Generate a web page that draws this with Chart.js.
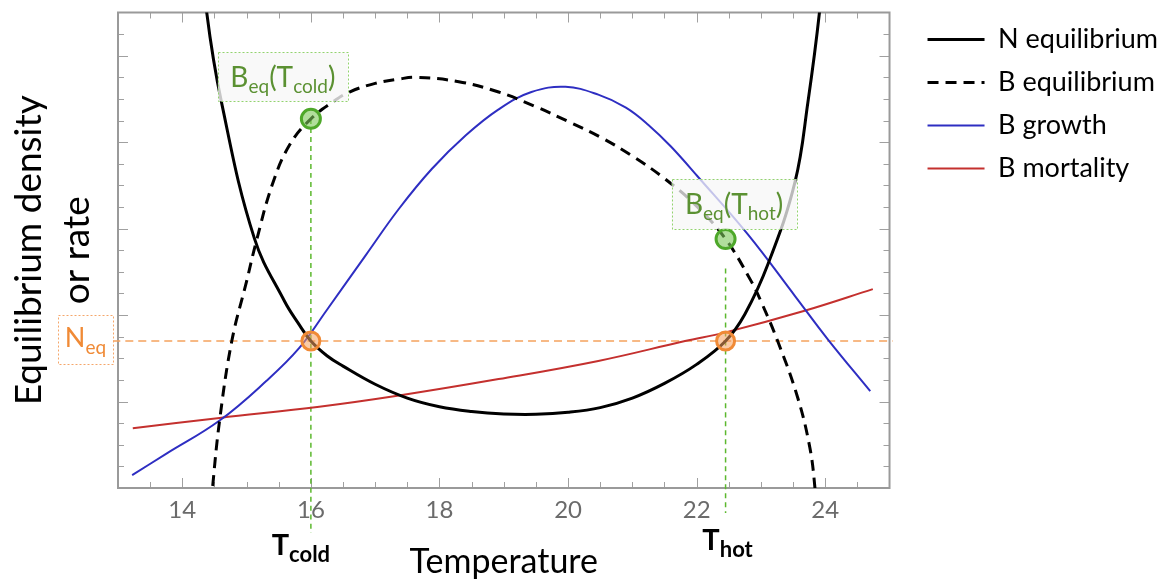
<!DOCTYPE html>
<html>
<head>
<meta charset="utf-8">
<script src="https://cdn.jsdelivr.net/npm/chart.js@4.4.1/dist/chart.umd.min.js"></script>
<style>
  html, body { margin: 0; padding: 0; background: #fff; }
</style>
</head>
<body>
<canvas id="chart" width="1172" height="581"></canvas>
<script>
// N equilibrium (solid black U curve)
const nEqTemp = [14.25, 14.38, 14.61, 15.12, 15.59, 15.8, 16.0, 16.25, 16.5, 17.0, 17.5, 18.0, 18.5, 19.0, 19.5, 20.0, 20.5, 21.0, 21.5, 22.0, 22.45, 22.75, 23.11, 23.53, 23.73, 23.91, 24.0];
const nEquilibrium = [6.6, 5.5, 4.46, 2.89, 2.16, 1.91, 1.70, 1.53, 1.41, 1.20, 1.04, 0.94, 0.885, 0.856, 0.852, 0.875, 0.93, 1.04, 1.21, 1.43, 1.70, 2.01, 2.59, 3.54, 4.46, 5.5, 6.3];

// B equilibrium (dashed hump)
const bEqTemp = [14.4, 14.47, 14.58, 14.77, 15.0, 15.15, 15.4, 15.67, 16.0, 16.33, 16.6, 17.0, 17.37, 17.64, 18.3, 18.92, 19.5, 20.0, 20.5, 21.0, 21.5, 22.0, 22.45, 22.85, 23.0, 23.26, 23.57, 23.76, 23.84, 23.9];
const bEquilibrium = [-0.6, 0.0, 0.78, 1.70, 2.39, 2.85, 3.51, 3.97, 4.27, 4.46, 4.58, 4.68, 4.73, 4.75, 4.70, 4.58, 4.41, 4.24, 4.06, 3.84, 3.58, 3.26, 2.88, 2.39, 2.16, 1.70, 1.05, 0.47, 0.0, -0.6];

// B growth and B mortality rates
const growthTemp = [13.22, 13.76, 14.58, 15.31, 15.82, 16.24, 16.86, 17.37, 17.88, 18.41, 18.92, 19.43, 19.96, 20.47, 20.9, 21.25, 21.6, 22.02, 22.8, 23.53, 24.04, 24.7];
const bGrowth = [0.15, 0.40, 0.78, 1.24, 1.62, 2.05, 2.70, 3.23, 3.69, 4.08, 4.38, 4.58, 4.64, 4.55, 4.40, 4.20, 3.95, 3.60, 2.93, 2.22, 1.72, 1.12];
const mortalityTemp = [13.23, 14.58, 16.13, 17.37, 18.92, 20.47, 21.82, 22.45, 23.68, 24.74];
const bMortality = [0.69, 0.81, 0.94, 1.07, 1.26, 1.47, 1.70, 1.80, 2.05, 2.30];

// marked temperatures and levels
const tCold = 16.0;
const tHot = 22.45;
const nEqLevel = 1.70;
const bEqCold = 4.27;
const bEqHot = 2.88;

const xTicks = [14, 16, 18, 20, 22, 24];

const pts = (xs, ys) => xs.map((x, i) => ({x: x, y: ys[i]}));

const FONT = 'Lato, "Open Sans", sans-serif';
Chart.defaults.font.family = FONT;

// writes a row of text pieces (for subscripts) centred on cx
function drawRuns(ctx, runs, cx, baseline, color) {
  let total = 0;
  const widths = runs.map(r => {
    ctx.font = (r.bold ? 'bold ' : '') + r.size + 'px ' + FONT;
    const w = ctx.measureText(r.text).width;
    total += w;
    return w;
  });
  let x = cx - total / 2;
  ctx.fillStyle = color;
  ctx.textAlign = 'left';
  ctx.textBaseline = 'alphabetic';
  runs.forEach((r, i) => {
    ctx.font = (r.bold ? 'bold ' : '') + r.size + 'px ' + FONT;
    ctx.fillText(r.text, x, baseline + (r.dy || 0));
    x += widths[i];
  });
}

function dottedBox(ctx, cx, cy, w, h, stroke, fill) {
  ctx.save();
  ctx.fillStyle = fill;
  ctx.fillRect(cx - w / 2, cy - h / 2, w, h);
  ctx.setLineDash([2, 2]);
  ctx.lineWidth = 1;
  ctx.strokeStyle = stroke;
  ctx.strokeRect(Math.round(cx - w / 2) + 0.5, Math.round(cy - h / 2) + 0.5, w, h);
  ctx.restore();
}

// frame with inward ticks on all four sides
const framePlugin = {
  id: 'frame',
  beforeDatasetsDraw(chart) {
    const {ctx, chartArea: a, scales: {x, y}} = chart;
    ctx.save();
    ctx.strokeStyle = '#a0a0a0';
    ctx.lineWidth = 1;
    ctx.beginPath();
    for (let i = 1; i < 24; i++) {
      const v = 13 + i * 0.5;
      const px = Math.round(x.getPixelForValue(v)) + 0.5;
      const len = (i % 4 === 2) ? 10 : 6;
      ctx.moveTo(px, a.bottom); ctx.lineTo(px, a.bottom - len);
      ctx.moveTo(px, a.top); ctx.lineTo(px, a.top + len);
    }
    for (let i = 1; i < 22; i++) {
      const v = i * 0.25;
      const py = Math.round(y.getPixelForValue(v)) + 0.5;
      const len = (i % 4 === 0) ? 10 : 6;
      ctx.moveTo(a.left, py); ctx.lineTo(a.left + len, py);
      ctx.moveTo(a.right, py); ctx.lineTo(a.right - len, py);
    }
    ctx.stroke();
    ctx.lineWidth = 2;
    ctx.strokeStyle = '#9a9a9a';
    ctx.strokeRect(a.left, a.top, a.right - a.left, a.bottom - a.top);
    ctx.restore();
  },
  afterDatasetsDraw(chart) {
    const {ctx, chartArea: a, scales: {x, y}} = chart;
    ctx.save();
    const green = '#5b9132';
    const orange = '#f08a36';

    // B_eq(T_cold)
    const cx1 = x.getPixelForValue(tCold) - 28;
    const cy1 = y.getPixelForValue(bEqCold) - 42;
    dottedBox(ctx, cx1, cy1, 130, 49, '#92d36e', 'rgba(247,247,247,0.8)');
    drawRuns(ctx, [
      {text: 'B', size: 28}, {text: 'eq', size: 19, dy: 6},
      {text: '(T', size: 28}, {text: 'cold', size: 19, dy: 6}, {text: ')', size: 28}
    ], cx1, cy1 + 10, green);

    // B_eq(T_hot)
    const cx2 = x.getPixelForValue(tHot) + 8.5;
    const cy2 = y.getPixelForValue(bEqHot) - 35;
    dottedBox(ctx, cx2, cy2, 125, 50, '#92d36e', 'rgba(247,247,247,0.75)');
    drawRuns(ctx, [
      {text: 'B', size: 28}, {text: 'eq', size: 19, dy: 6},
      {text: '(T', size: 28}, {text: 'hot', size: 19, dy: 6}, {text: ')', size: 28}
    ], cx2, cy2 + 10, green);

    // N_eq at the left of the frame
    const ny = y.getPixelForValue(nEqLevel);
    dottedBox(ctx, a.left - 32.5, ny - 1.5, 55, 49, '#f5a66a', '#fff');
    drawRuns(ctx, [
      {text: 'N', size: 27}, {text: 'eq', size: 19, dy: 7}
    ], a.left - 32.5, ny + 6, orange);

    // temperature marks below the axis
    drawRuns(ctx, [
      {text: 'T', size: 29, bold: true}, {text: 'cold', size: 22, bold: true, dy: 7}
    ], x.getPixelForValue(tCold) - 10, 555, '#000');
    drawRuns(ctx, [
      {text: 'T', size: 29, bold: true}, {text: 'hot', size: 22, bold: true, dy: 7}
    ], x.getPixelForValue(tHot) + 2, 550, '#000');
    ctx.restore();
  }
};

const chart = new Chart(document.getElementById('chart'), {
  type: 'line',
  plugins: [framePlugin],
  data: {
    datasets: [
      {
        label: 'N equilibrium',
        data: pts(nEqTemp, nEquilibrium),
        borderColor: '#000',
        backgroundColor: '#000',
        borderWidth: 3,
        order: 1
      },
      {
        label: 'B equilibrium',
        data: pts(bEqTemp, bEquilibrium),
        borderColor: '#000',
        backgroundColor: '#000',
        borderWidth: 3,
        borderDash: [11, 7],
        order: 2
      },
      {
        label: 'B growth',
        data: pts(growthTemp, bGrowth),
        borderColor: '#2e2ec2',
        backgroundColor: '#2e2ec2',
        borderWidth: 2,
        order: 3
      },
      {
        label: 'B mortality',
        data: pts(mortalityTemp, bMortality),
        borderColor: '#c4302e',
        backgroundColor: '#c4302e',
        borderWidth: 2,
        order: 4
      },
      {
        label: 'N_eq level',
        data: [{x: 12.91, y: nEqLevel}, {x: 25.05, y: nEqLevel}],
        borderColor: '#f5a25e',
        borderWidth: 1.5,
        borderDash: [8, 5],
        clip: false,
        order: 5
      },
      {
        label: 'T_cold guide',
        data: [{x: tCold, y: bEqCold}, {x: tCold, y: -0.52}],
        borderColor: '#5cb82e',
        borderWidth: 1.5,
        borderDash: [5, 4],
        clip: false,
        order: 5
      },
      {
        label: 'T_hot guide',
        data: [{x: tHot, y: 2.54}, {x: tHot, y: -0.29}],
        borderColor: '#5cb82e',
        borderWidth: 1.5,
        borderDash: [5, 4],
        clip: false,
        order: 5
      },
      {
        label: 'B_eq points',
        data: [{x: tCold, y: bEqCold}, {x: tHot, y: bEqHot}],
        showLine: false,
        pointRadius: 9.5,
        pointBorderWidth: 3,
        pointBackgroundColor: 'rgba(125,200,90,0.6)',
        pointBorderColor: '#4ea82a',
        order: -1
      },
      {
        label: 'N_eq points',
        data: [{x: tCold, y: nEqLevel}, {x: tHot, y: nEqLevel}],
        showLine: false,
        pointRadius: 9,
        pointBorderWidth: 3,
        pointBackgroundColor: 'rgba(245,160,95,0.55)',
        pointBorderColor: '#f08a36',
        order: -1
      }
    ]
  },
  options: {
    responsive: false,
    animation: false,
    events: [],
    elements: {
      point: { radius: 0 },
      line: { tension: 0.4, capBezierPoints: false, fill: false }
    },
    layout: { padding: { top: 10, left: 0, right: 4, bottom: 0 } },
    plugins: {
      tooltip: { enabled: false },
      legend: {
        position: 'right',
        align: 'start',
        maxWidth: 260,
        labels: {
          usePointStyle: true,
          pointStyle: 'line',
          pointStyleWidth: 57,
          boxHeight: 27,
          padding: 16,
          color: '#000',
          font: { size: 27, family: FONT },
          // only the four curves, drawn with their own dash and width
          generateLabels: c => Chart.defaults.plugins.legend.labels.generateLabels(c)
            .filter(item => item.datasetIndex < 4)
            .map(item => {
              const ds = c.data.datasets[item.datasetIndex];
              return Object.assign(item, {
                lineDash: ds.borderDash || [],
                lineWidth: ds.borderWidth,
                strokeStyle: ds.borderColor,
                fillStyle: ds.borderColor
              });
            })
        }
      }
    },
    scales: {
      x: {
        type: 'linear',
        min: 13,
        max: 25,
        afterFit: s => { s.height = 93; },
        afterBuildTicks: s => { s.ticks = xTicks.map(v => ({value: v})); },
        grid: { display: false, drawTicks: false },
        border: { display: false },
        ticks: { color: '#6b6b6b', padding: 8, font: { size: 24 } },
        title: {
          display: true,
          text: 'Temperature',
          color: '#000',
          font: { size: 34, lineHeight: 1 },
          padding: { top: 0, bottom: 2 }
        }
      },
      y: {
        min: 0,
        max: 5.5,
        afterFit: s => { s.width = 118; },
        grid: { display: false, drawTicks: false },
        border: { display: false },
        ticks: { display: false },
        title: {
          display: true,
          text: ['Equilibrium density', 'or rate'],
          color: '#000',
          font: { size: 37, lineHeight: 1.3 },
          padding: { top: 5, bottom: 0 }
        }
      },
      yr: {
        position: 'right',
        min: 0,
        max: 5.5,
        afterFit: s => { s.width = 22; },
        grid: { display: false, drawTicks: false },
        border: { display: false },
        ticks: { display: false }
      }
    }
  }
});
</script>
</body>
</html>
